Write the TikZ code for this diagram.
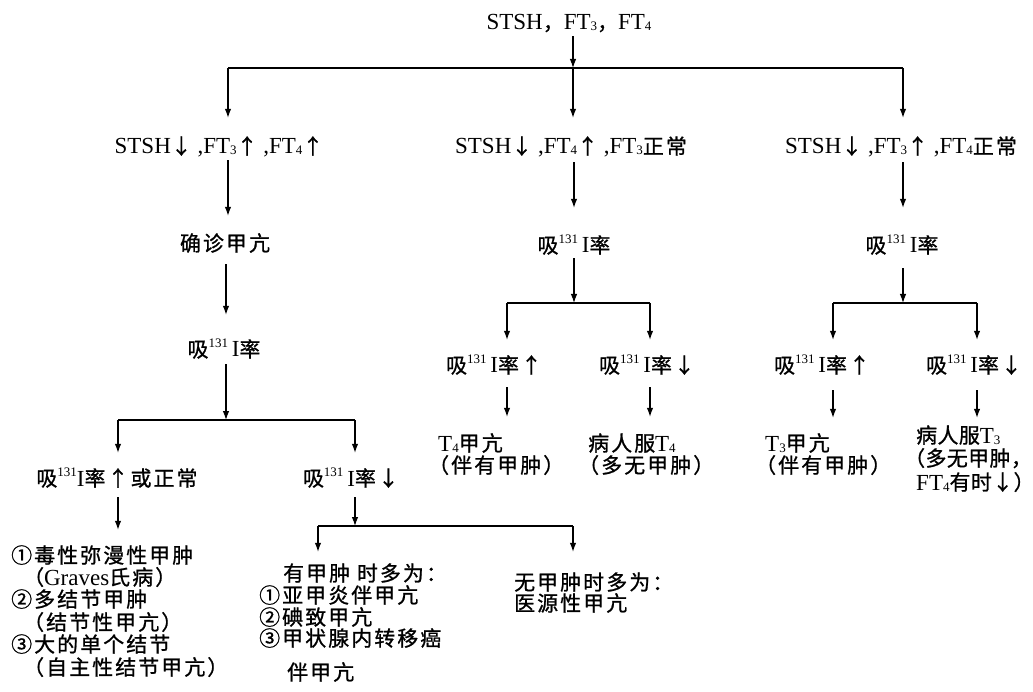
\documentclass[tikz,border=0pt]{standalone}
\usepackage{fontspec}
\setmainfont{Liberation Serif}
\newfontfamily\cjk{Noto Sans CJK SC}[Scale=0.91,LetterSpace=10,FakeBold=1]
\newfontfamily\cjkn{Noto Sans CJK SC}[Scale=0.91,LetterSpace=2,FakeBold=1]
\usetikzlibrary{arrows.meta,calc}
\newcommand\zh[1]{{\cjk #1}}
\newcommand\zhn[1]{{\cjkn #1}}
\newcommand\sups[1]{\raisebox{9.5pt}{\fontsize{13}{13}\selectfont #1}}
\newcommand\subs[1]{\raisebox{-1pt}{\fontsize{13}{13}\selectfont #1}}
\begin{document}
\begin{tikzpicture}[x=1pt,y=-1pt,
  every node/.style={inner sep=0pt, anchor=base, text height=15pt, text depth=4pt, font=\fontsize{23}{26}\selectfont},
  lw/.style={anchor=base west},
  arr/.style={-{Latex[length=9pt,width=6.5pt]}, line width=1.1pt},
  ln/.style={line width=1.1pt}]
\useasboundingbox (0,0) rectangle (1033,692);

% top
\node (top) at (569,30) {STSH\zh{，}FT\subs{3}\zh{，}FT\subs{4}};
\coordinate (j0) at (573,68);
\coordinate (jL) at (228,68);
\coordinate (jR) at (903,68);

% row 2
\node (r2L) at (219,154) {STSH\zh{↓} ,FT\subs{3}\zh{↑} ,FT\subs{4}\zh{↑}};
\node (r2M) at (571,154) {STSH\zh{↓} ,FT\subs{4}\zh{↑} ,FT\subs{3}\zh{正常}};
\node (r2R) at (901,154) {STSH\zh{↓} ,FT\subs{3}\zh{↑} ,FT\subs{4}\zh{正常}};

% left column
\node (qz) at (225,251) {\zh{确诊甲亢}};
\node (xL) at (224,357) {\zh{吸}\sups{131}\,I\zh{率}};
\coordinate (jL2) at (226,420);
\coordinate (jL2a) at (118,420);
\coordinate (jL2b) at (355,420);
\node (xLup) at (117,486) {\zh{吸}\sups{131}I\zh{率↑或正常}};
\node (xLdn) at (351,486) {\zh{吸}\sups{131}\,I\zh{率↓}};
\node[lw] (L1) at (11,563) {\zh{①毒性弥漫性甲肿}};
\node[lw] (L2) at (23,585) {\zh{（}Graves\zh{氏病）}};
\node[lw] (L3) at (11,607) {\zh{②多结节甲肿}};
\node[lw] (L4) at (23,630) {\zh{（结节性甲亢）}};
\node[lw] (L5) at (11,652) {\zh{③大的单个结节}};
\node[lw] (L6) at (23,675) {\zh{（自主性结节甲亢）}};
\coordinate (jL3) at (355,526);
\coordinate (jL3a) at (318,526);
\coordinate (jL3b) at (573,526);
\node[lw] (M1) at (283,581) {\zh{有甲肿 时多为：}};
\node[lw] (M2) at (259,603) {\zh{①亚甲炎伴甲亢}};
\node[lw] (M3) at (259,625) {\zh{②碘致甲亢}};
\node[lw] (M4) at (259,646) {\zh{③甲状腺内转移癌}};
\node[lw] (M5) at (287,680) {\zh{伴甲亢}};
\node[lw] (W1) at (514,590) {\zh{无甲肿时多为：}};
\node[lw] (W2) at (514,611) {\zh{医源性甲亢}};

% middle column
\node (xM) at (574,253) {\zh{吸}\sups{131}\,I\zh{率}};
\coordinate (jM) at (574,303);
\coordinate (jMa) at (507,303);
\coordinate (jMb) at (650,303);
\node (xMup) at (494,373) {\zh{吸}\sups{131}\,I\zh{率}\hspace{2pt}\zh{↑}};
\node (xMdn) at (647,373) {\zh{吸}\sups{131}\,I\zh{率}\hspace{2pt}\zh{↓}};
\node[lw] (T4a) at (438,451) {T\subs{4}\zh{甲亢}};
\node[lw] (T4b) at (428,473) {\zh{（伴有甲肿）}};
\node[lw] (brT4a) at (588,451) {\zh{病人服}T\subs{4}};
\node[lw] (brT4b) at (578,473) {\zh{（多无甲肿）}};

% right column
\node (xR) at (902,253) {\zh{吸}\sups{131}\,I\zh{率}};
\coordinate (jR2) at (903,303);
\coordinate (jRa) at (833,303);
\coordinate (jRb) at (977,303);
\node (xRup) at (822,373) {\zh{吸}\sups{131}\,I\zh{率}\hspace{2pt}\zh{↑}};
\node (xRdn) at (974,373) {\zh{吸}\sups{131}\,I\zh{率}\hspace{2pt}\zh{↓}};
\node[lw] (T3a) at (765,451) {T\subs{3}\zh{甲亢}};
\node[lw] (T3b) at (755,473) {\zh{（伴有甲肿）}};
\node[lw] (brT3a) at (916,443) {\zhn{病人服}T\subs{3}};
\node[lw] (brT3b) at (904,466) {\zhn{（多无甲肿，}};
\node[lw] (brT3c) at (916,490) {FT\subs{4}\zhn{有时↓）}};

% connectors: top
\draw[arr] ($(top.south -| j0)+(0,2)$) -- (j0);
\draw[ln] (jL) -- (jR);
\draw[arr] (jL) -- ($(r2L.north -| jL)+(0,-21)$);
\draw[arr] (j0) -- ($(r2M.north -| j0)+(0,-21)$);
\draw[arr] (jR) -- ($(r2R.north -| jR)+(0,-21)$);
% left
\draw[arr] ($(r2L.south -| jL)+(0,2)$) -- ($(qz.north -| jL)+(0,-20)$);
\draw[arr] ($(qz.south -| jL2)+(0,9)$) -- ($(xL.north -| jL2)+(0,-27)$);
\draw[arr] ($(xL.south -| jL2)+(0,3)$) -- (jL2);
\draw[ln] (jL2a) -- (jL2b);
\draw[arr] (jL2a) -- ($(xLup.north -| jL2a)+(0,-18)$);
\draw[arr] (jL2b) -- ($(xLdn.north -| jL2b)+(0,-18)$);
\draw[arr] ($(xLup.south -| jL2a)+(0,7)$) -- ($(L1.north -| jL2a)+(0,-18)$);
\draw[arr] ($(xLdn.south -| jL3)+(0,7)$) -- (jL3);
\draw[ln] (jL3a) -- (jL3b);
\draw[arr] (jL3a) -- ($(M1.north -| jL3a)+(0,-14)$);
\draw[arr] (jL3b) -- ($(W1.north -| jL3b)+(0,-23)$);
% middle
\draw[arr] ($(r2M.south -| jM)+(0,4)$) -- ($(xM.north -| jM)+(0,-30)$);
\draw[arr] ($(xM.south -| jM)+(0,1)$) -- (jM);
\draw[ln] (jMa) -- (jMb);
\draw[arr] (jMa) -- ($(xMup.north -| jMa)+(0,-18)$);
\draw[arr] (jMb) -- ($(xMdn.north -| jMb)+(0,-18)$);
\draw[arr] ($(xMup.south -| jMa)+(0,10)$) -- ($(T4a.north -| jMa)+(0,-19)$);
\draw[arr] ($(xMdn.south -| jMb)+(0,10)$) -- ($(brT4a.north -| jMb)+(0,-19)$);
% right
\draw[arr] ($(r2R.south -| jR)+(0,4)$) -- ($(xR.north -| jR)+(0,-30)$);
\draw[arr] ($(xR.south -| jR2)+(0,11)$) -- (jR2);
\draw[ln] (jRa) -- (jRb);
\draw[arr] (jRa) -- ($(xRup.north -| jRa)+(0,-18)$);
\draw[arr] (jRb) -- ($(xRdn.north -| jRb)+(0,-18)$);
\draw[arr] ($(xRup.south -| jRa)+(0,13)$) -- ($(T3a.north -| jRa)+(0,-18)$);
\draw[arr] ($(xRdn.south -| jRb)+(0,13)$) -- ($(brT3a.north -| jRb)+(0,-10)$);
\end{tikzpicture}
\end{document}
